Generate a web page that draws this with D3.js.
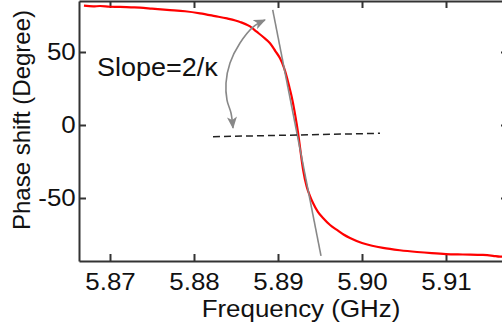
<!DOCTYPE html>
<html><head><meta charset="utf-8">
<script src="https://cdn.jsdelivr.net/npm/d3@7"></script>
<style>html,body{margin:0;padding:0;background:#fff;overflow:hidden}svg{display:block}</style>
</head><body>
<script>
// Data
const freq = [5.86690,5.86800,5.86881,5.87000,5.87119,5.87250,5.87357,5.87500,5.87679,5.87893,5.88071,5.88250,5.88393,5.88548,5.88667,5.88746,5.88850,5.88905,5.88970,5.89024,5.89070,5.89104,5.89135,5.89163,5.89195,5.89223,5.89250,5.89275,5.89300,5.89342,5.89380,5.89417,5.89475,5.89536,5.89620,5.89702,5.89780,5.89857,5.90000,5.90120,5.90250,5.90450,5.90655,5.90830,5.91000,5.91200,5.91440,5.91560,5.91643,5.91740];
const phase = [81.7,81.2,81.5,81.0,80.9,80.6,80.4,79.7,78.8,77.9,76.5,74.6,73.0,70.6,67.5,63.9,59.0,56.0,50.5,45.7,39.5,33.1,26.0,19.4,10.0,0.5,-10.0,-21.0,-31.0,-42.3,-48.5,-53.4,-59.5,-63.7,-68.5,-71.9,-75.0,-77.4,-80.8,-82.7,-84.2,-85.8,-87.0,-87.8,-88.4,-88.7,-89.0,-89.6,-90.2,-89.6];
const xTicks = [5.87,5.88,5.89,5.90,5.91];
const yTicks = [-50,0,50];
const yTickLabels = ["-50","0","50"];
const slopeF = [5.88937,5.89512];
const slopeP = [78.8,-89.7];
const dashF = [5.88226,5.90214];
const dashP = [-8.0,-5.7];
const arrowF = [5.888452,5.887024,5.885476,5.884286,5.883810,5.883929,5.884405,5.884643];
const arrowP = [71.9,67.1,56.2,42.5,28.8,17.1,8.2,-2.0];
const annotation = "Slope=2/κ";
const xTitle = "Frequency (GHz)";
const yTitle = "Phase shift (Degree)";

const W = 502, H = 329;
const L = 79, R = 508, T = 1, B = 261;
const SX = 1.08; // horizontal text stretch seen in reference

const svg = d3.select("body").append("svg").attr("width", W).attr("height", H)
  .style("font-family", "'Liberation Sans', Arial, sans-serif");

const x = d3.scaleLinear().domain([5.866310, 5.917381]).range([L, R]);
const y = d3.scaleLinear().domain([-93.15, 84.93]).range([B, T]);

const defs = svg.append("defs");
defs.append("clipPath").attr("id","clip")
  .append("rect").attr("x", L).attr("y", T).attr("width", R - L).attr("height", B - T);
defs.append("marker").attr("id","ah").attr("viewBox","0 0 12 10")
  .attr("refX", 11).attr("refY", 5).attr("markerWidth", 13).attr("markerHeight", 10)
  .attr("markerUnits","userSpaceOnUse").attr("orient","auto-start-reverse")
  .append("path").attr("d","M0,0 L12,5 L0,10 L3,5 Z").attr("fill","#888");

const axisColor = "#333";
function styleAxis(g){
  g.select(".domain").attr("stroke", axisColor).attr("stroke-width", 2);
  g.selectAll(".tick line").attr("stroke", axisColor).attr("stroke-width", 2);
  g.selectAll(".tick text").attr("fill", "#111").style("font-size","24px");
}

// bottom axis
const gB = svg.append("g").attr("transform", `translate(0,${B})`)
  .call(d3.axisBottom(x).tickValues(xTicks).tickFormat(d3.format(".2f")).tickSizeInner(-7).tickSizeOuter(0).tickPadding(12));
styleAxis(gB);
gB.selectAll(".tick text").attr("transform", `scale(${SX},1)`);
// top axis
const gT = svg.append("g").attr("transform", `translate(0,${T})`)
  .call(d3.axisTop(x).tickValues(xTicks).tickFormat("").tickSizeInner(-7).tickSizeOuter(0));
styleAxis(gT);
// left axis
const gL = svg.append("g").attr("transform", `translate(${L},0)`)
  .call(d3.axisLeft(y).tickValues(yTicks).tickFormat((d,i)=>yTickLabels[i]).tickSizeInner(-7).tickSizeOuter(0).tickPadding(3));
styleAxis(gL);
gL.selectAll(".tick text").attr("transform", `scale(${SX},1)`);
// right axis
const gR = svg.append("g").attr("transform", `translate(${R},0)`)
  .call(d3.axisRight(y).tickValues(yTicks).tickFormat("").tickSizeInner(-7).tickSizeOuter(0));
styleAxis(gR);

const plot = svg.append("g").attr("clip-path","url(#clip)");

// data curve
const pts = freq.map((f,i)=>[f, phase[i]]);
plot.append("path").datum(pts)
  .attr("d", d3.line().x(d=>x(d[0])).y(d=>y(d[1])).curve(d3.curveMonotoneX))
  .attr("fill","none").attr("stroke","#ff0000").attr("stroke-width",2.2);

// slope line
plot.append("line")
  .attr("x1", x(slopeF[0])).attr("y1", y(slopeP[0]))
  .attr("x2", x(slopeF[1])).attr("y2", y(slopeP[1]))
  .attr("stroke","#888").attr("stroke-width",1.6);

// dashed line
plot.append("line")
  .attr("x1", x(dashF[0])).attr("y1", y(dashP[0]))
  .attr("x2", x(dashF[1])).attr("y2", y(dashP[1]))
  .attr("stroke","#222").attr("stroke-width",1.5).attr("stroke-dasharray","7,4");

// curved arrow
const apts = arrowF.map((f,i)=>[f, arrowP[i]]);
svg.append("path").datum(apts)
  .attr("d", d3.line().x(d=>x(d[0])).y(d=>y(d[1])).curve(d3.curveCatmullRom))
  .attr("fill","none").attr("stroke","#888").attr("stroke-width",1.6)
  .attr("marker-start","url(#ah)").attr("marker-end","url(#ah)");

// annotation text
svg.append("text").attr("transform", `translate(97,76) scale(${SX},1)`)
  .style("font-size","25px").attr("fill","#111").text(annotation);

// axis titles
svg.append("text").attr("transform", `translate(301,317) scale(${SX},1)`)
  .attr("text-anchor","middle").style("font-size","24px").attr("fill","#111").text(xTitle);
svg.append("text").attr("transform", `translate(30,120) rotate(-90)`)
  .attr("text-anchor","middle").style("font-size","24px").attr("fill","#111").text(yTitle);
</script>
</body></html>
